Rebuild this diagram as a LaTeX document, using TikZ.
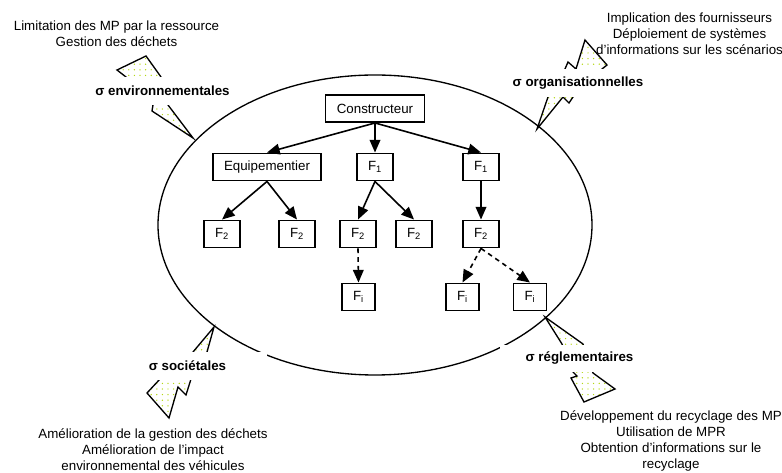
\documentclass[tikz,border=0pt]{standalone}
\usepackage{fontspec}
\setmainfont{Liberation Sans}
\usetikzlibrary{arrows.meta,patterns.meta}
\definecolor{vertpoint}{RGB}{180,215,20}
\tikzset{
  boite/.style={draw, black, line width=1.2pt, fill=white, inner sep=0pt, minimum height=20.5pt},
  etiquette/.style={fill=white, inner sep=0pt, minimum width=119pt, minimum height=20.5pt, font=\bfseries},
  eclair/.style={draw, black, line width=1pt, line join=miter,
    pattern={Dots[distance=4.2pt, radius=0.55pt]}, pattern color=vertpoint},
  fleche/.style={line width=1.2pt, -{Triangle[length=9.5pt, width=8pt]}},
  pointilles/.style={fleche, dash pattern=on 3.5pt off 3pt},
  texte/.style={align=center, inner sep=0pt}
}
\begin{document}
\begin{tikzpicture}[x=0.75pt,y=-0.75pt]
    \useasboundingbox (0,0) rectangle (782,473) ;
    \draw [line width=1pt] (375,225) ellipse [x radius=217, y radius=150] ;
    \draw [eclair] (193,138) -- (168,105) -- (161,77) -- (146,56) -- (117,70)
    -- (126,77) -- (153,105) -- (152,111) -- cycle ;
    \draw [eclair] (537,129) -- (548,97) -- (565,69) -- (568,62) -- (576,69)
    -- (585,40) -- (607,65) -- (602,69) -- (573,97) -- (569,103) -- (563,97) -- cycle ;
    \draw [eclair] (214,327) -- (193,352) -- (160,379) -- (147,393) -- (169,418)
    -- (178,387) -- (186,395) -- (191,379) -- (207,352) -- cycle ;
    \draw [eclair] (545,317) -- (562,344) -- (573,372) -- (577,376) -- (571,378)
    -- (584,402) -- (615,389) -- (593,373) -- (583,344) -- cycle ;
    \node [etiquette] (environnement) at (162.5,91) {σ environnementales} ;
    \node [etiquette] (organisation) at (578,83) {σ organisationnelles} ;
    \node [etiquette] (societe) at (187.5,366) {σ sociétales} ;
    \node [etiquette] (reglement) at (579.5,358.5) {σ réglementaires} ;
    \node [texte] (texteA) at (116.5,33.5) {Limitation des MP par la ressource\\Gestion des déchets} ;
    \node [texte] (texteB) at (689.5,33.5) {Implication des fournisseurs\\Déploiement de systèmes\\d’informations sur les scénarios} ;
    \node [texte] (texteC) at (153,449.5) {Amélioration de la gestion des déchets\\Amélioration de l’impact\\environnemental des véhicules} ;
    \node [texte] (texteD) at (671,441) {Développement du recyclage des MP\\Utilisation de MPR\\Obtention d’informations sur le\\recyclage} ;
    \node [boite, minimum width=74pt] (constructeur) at (375,108.5) {Constructeur} ;
    \node [boite, minimum width=81pt] (equipementier) at (267,167) {Equipementier} ;
    \foreach \nom/\x in {fa/375,fb/481} {
      \node [boite, minimum width=27pt] (\nom) at (\x,167) {F\textsubscript{1}} ;
    }
    \foreach \nom/\x in {ga/222,gb/297,gc/358,gd/414,ge/481} {
      \node [boite, minimum width=27pt] (\nom) at (\x,234) {F\textsubscript{2}} ;
    }
    \foreach \nom/\x in {ha/358.5,hb/462.5,hc/530} {
      \node [boite, minimum width=25pt] (\nom) at (\x,297) {F\textsubscript{i}} ;
    }
    \foreach \a/\b in {constructeur/equipementier,constructeur/fa,constructeur/fb,
      equipementier/ga,equipementier/gb,fa/gc,fa/gd,fb/ge} {
      \draw [fleche] (\a.south) -- (\b.north) ;
    }
    \foreach \a/\b in {gc/ha,ge/hb,ge/hc} {
      \draw [pointilles] (\a.south) -- (\b.north) ;
    }
  \end{tikzpicture}
\end{document}
